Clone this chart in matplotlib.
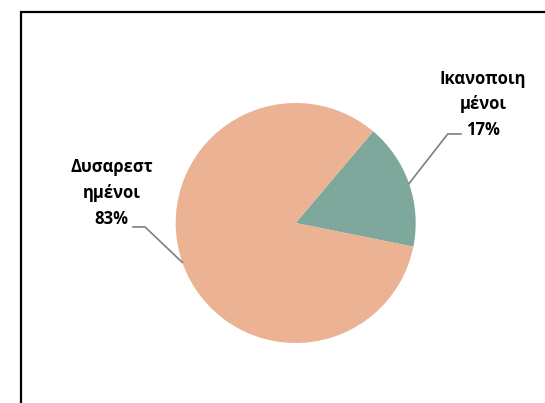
import matplotlib
matplotlib.use('Agg')
import matplotlib.pyplot as plt
import numpy as np
from matplotlib.patches import Rectangle

# data
labels = ['Ικανοποιη\nμένοι', 'Δυσαρεστ\nημένοι']
values = [17, 83]
colors = ['#7DA89B', '#EBB393']

W, H = 545, 403
fig = plt.figure(figsize=(W / 100, H / 100), dpi=100)

# chart frame (runs off the right and bottom edge)
fig.patches.append(Rectangle((20.5 / W, -0.1), 1.2, (H - 11.5) / H + 0.1,
                             transform=fig.transFigure, fill=False,
                             edgecolor='black', linewidth=1.6))

# pie centre (295.7, 223) px, radius 120 px
cx, cy, r = 295.7, 223, 120
ax = fig.add_axes([(cx - r) / W, (H - cy - r) / H, 2 * r / W, 2 * r / H])

wedges, _ = ax.pie(values, colors=colors, startangle=49.8, counterclock=False,
                   wedgeprops=dict(linewidth=0))
ax.set_xlim(-1, 1)
ax.set_ylim(-1, 1)
ax.axis('off')

total = sum(values)
font = dict(family=['Open Sans', 'DejaVu Sans'], fontweight='bold', fontsize=12)

# label layout: (elbow, line end, text position) in axes data units
layout = [((1.267, 0.742), (1.377, 0.742), (1.561, 0.99)),
          ((-1.256, -0.033), (-1.356, -0.033), (-1.535, 0.25))]

for w, lab, v, (elbow, end, tpos) in zip(wedges, labels, values, layout):
    mid = np.deg2rad((w.theta1 + w.theta2) / 2)
    anchor = (np.cos(mid), np.sin(mid))
    ax.plot([anchor[0], elbow[0], end[0]], [anchor[1], elbow[1], end[1]],
            color='#7F7F7F', linewidth=1.2, clip_on=False,
            solid_joinstyle='miter')
    ax.text(tpos[0], tpos[1], '%s\n%d%%' % (lab, round(100 * v / total)),
            ha='center', va='center', multialignment='center',
            linespacing=1.55, clip_on=False, **font)

fig.savefig('out.png', dpi=100)
